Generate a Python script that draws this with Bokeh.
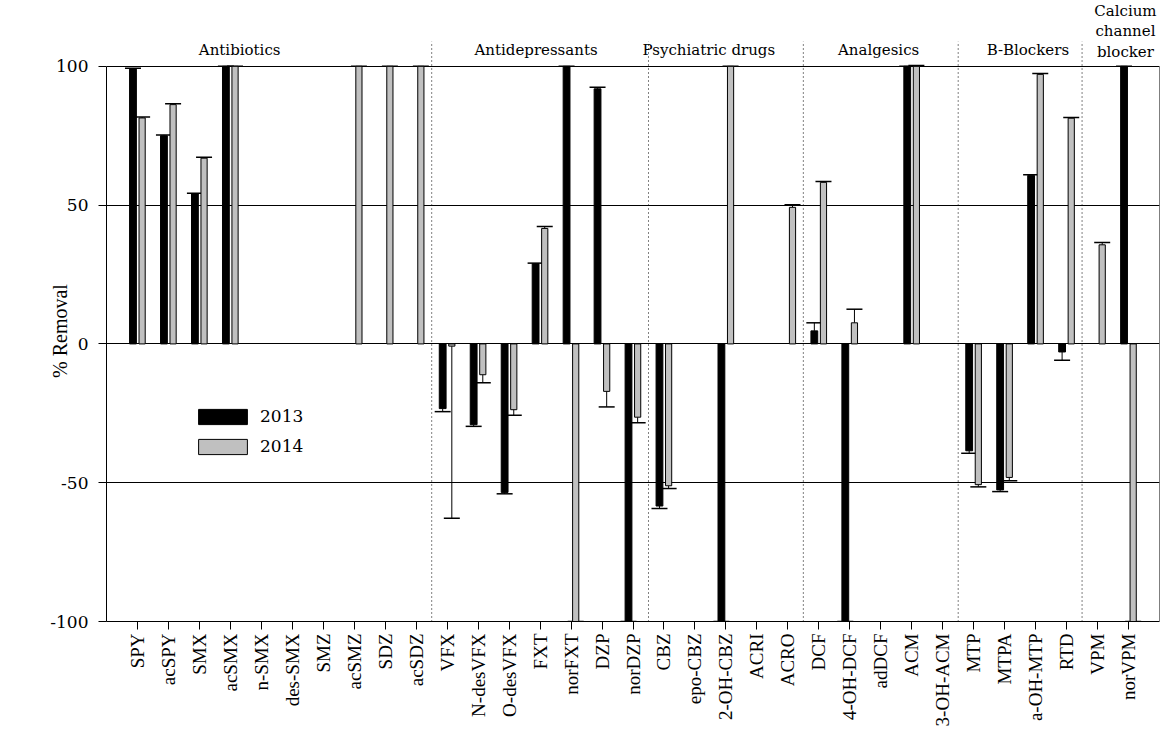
import math
from bokeh.plotting import figure
from bokeh.layouts import column
from bokeh.models import (Range1d, FixedTicker, Whisker, TeeHead, Legend, LegendItem,
                          ColumnDataSource)
from bokeh.core.properties import value
from bokeh.embed import file_html
from bokeh.resources import INLINE

# ---------------- data ----------------
compounds = ["SPY", "acSPY", "SMX", "acSMX", "n-SMX", "des-SMX", "SMZ", "acSMZ", "SDZ", "acSDZ",
             "VFX", "N-desVFX", "O-desVFX", "FXT", "norFXT", "DZP", "norDZP",
             "CBZ", "epo-CBZ", "2-OH-CBZ", "ACRI", "ACRO",
             "DCF", "4-OH-DCF", "adDCF", "ACM", "3-OH-ACM",
             "MTP", "MTPA", "a-OH-MTP", "RTD",
             "VPM", "norVPM"]

removal_2013 = [99, 75, 54, 100, None, None, None, None, None, None,
                -23.3, -29.1, -53.5, 28.9, 100, 91.9, -100,
                -58.4, None, -100, None, None,
                4.7, -100, None, 100, None,
                -38.5, -52.6, 60.7, -2.9,
                None, 100]
error_2013 = [0.3, 0.3, 0.3, 0, None, None, None, None, None, None,
              1.1, 0.6, 0.5, 0.2, 0, 0.6, 0,
              0.9, None, 0, None, None,
              2.9, 0, None, 0, None,
              0.9, 0.6, 0.2, 3.0,
              None, 0]

removal_2014 = [81.4, 86.2, 66.9, 100, None, None, None, 100, 100, 100,
                -0.8, -11.1, -23.7, 41.6, -100, -17.1, -26.4,
                -51.1, None, 100, None, 49.2,
                58.2, 7.6, None, 100, None,
                -50.7, -48.1, 97.1, 81.3,
                35.7, -100]
error_2014 = [0.3, 0.3, 0.3, 0, None, None, None, 0, 0, 0,
              62, 2.9, 2.0, 0.7, 0, 5.6, 2.0,
              1.0, None, 0, None, 0.9,
              0.3, 4.9, None, 0.3, None,
              0.8, 1.2, 0.3, 0.3,
              0.8, 0]

years = ["2013", "2014"]

groups = ["Antibiotics", "Antidepressants", "Psychiatric drugs", "Analgesics", "B-Blockers"]
group_label_x = [4.3, 13.87, 19.45, 24.93, 29.75]
group_bounds = [10.5, 17.5, 22.5, 27.5, 31.5]
ccb_lines = ["Calcium", "channel", "blocker"]

# ---------------- layout ----------------
n = len(compounds)
W = 1161
BL, BR = 106, 2
PX = 2.775          # pixels per percent unit
YSPLIT = 109.3      # value at the seam between header strip and main chart
TOP_H = 40
xr = Range1d(0, n + 1)

# header strip (upper lines of the multi-line class name)
top = figure(width=W, height=TOP_H, output_backend="svg", toolbar_location=None,
             x_range=xr, y_range=Range1d(YSPLIT, YSPLIT + TOP_H / PX),
             x_axis_location=None, y_axis_location=None,
             min_border_left=BL, min_border_right=BR, min_border_top=0, min_border_bottom=0)
top.outline_line_color = None
top.grid.visible = False
top.text(x=[32.9] * 2, y=[120.0, 112.8], text=ccb_lines[:2], text_align="center",
         text_baseline="middle", text_font=value("DejaVu Serif"), text_font_size="15px",
         text_color="black")

# main chart
frame_h = (YSPLIT + 100) * PX
p = figure(width=W, height=int(round(frame_h)) + 110, output_backend="svg", toolbar_location=None,
           x_range=xr, y_range=Range1d(-100, YSPLIT),
           min_border_left=BL, min_border_right=BR, min_border_top=0, min_border_bottom=110)
p.outline_line_color = None
p.xgrid.visible = False
p.ygrid.ticker = FixedTicker(ticks=[-50, 0, 50, 100])
p.ygrid.grid_line_color = "black"
p.ygrid.grid_line_width = 1

p.xaxis.ticker = FixedTicker(ticks=list(range(1, n + 1)))
p.xaxis.major_label_overrides = {i + 1: c for i, c in enumerate(compounds)}
p.xaxis.major_label_orientation = math.pi / 2
p.xaxis.major_label_text_font = "Liberation Serif"
p.xaxis.major_label_text_font_size = "19px"
p.xaxis.major_label_text_color = "black"
p.xaxis.major_tick_in = 0
p.xaxis.major_tick_out = 8
p.xaxis.minor_tick_line_color = None
p.xaxis.axis_line_color = "black"
p.xaxis.major_label_standoff = 4

p.yaxis.ticker = FixedTicker(ticks=[-100, -50, 0, 50, 100])
p.yaxis.bounds = (-100, 100)
p.yaxis.major_label_overrides = {-100: "-100", -50: "-50", 0: "0", 50: "50", 100: "100"}
p.yaxis.major_label_text_font = "DejaVu Serif"
p.yaxis.major_label_text_font_size = "17px"
p.yaxis.major_label_text_color = "black"
p.yaxis.major_tick_in = 0
p.yaxis.major_tick_out = 8
p.yaxis.minor_tick_line_color = None
p.yaxis.axis_line_color = "black"
p.yaxis.major_label_standoff = 10
p.yaxis.axis_label = "% Removal"
p.yaxis.axis_label_text_font = "Liberation Serif"
p.yaxis.axis_label_text_font_style = "normal"
p.yaxis.axis_label_text_font_size = "20px"
p.yaxis.axis_label_text_color = "black"
p.yaxis.axis_label_standoff = -24

# right border of the plot box
p.segment(x0=[n + 1], y0=[-100], x1=[n + 1], y1=[100], line_color="black", line_width=1)

# group separators
p.segment(x0=group_bounds, y0=[-100] * len(group_bounds), x1=group_bounds,
          y1=[109] * len(group_bounds), line_color="black", line_width=1, line_dash="1 3")

# class names
p.text(x=group_label_x, y=[105.8] * len(groups), text=groups, text_align="center",
       text_baseline="middle", text_font=value("DejaVu Serif"), text_font_size="15px",
       text_color="black")
p.text(x=[32.9], y=[105.0], text=ccb_lines[2:], text_align="center",
       text_baseline="middle", text_font=value("DejaVu Serif"), text_font_size="15px",
       text_color="black")


def series(vals, errs, offset):
    xs, tops, xp, lo, hi, xn, lon, hin = [], [], [], [], [], [], [], []
    for i, (v, e) in enumerate(zip(vals, errs)):
        if v is None:
            continue
        x = i + 1 + offset
        xs.append(x)
        tops.append(v)
        if v >= 0:
            xp.append(x); lo.append(v); hi.append(v + e)
        else:
            xn.append(x); lon.append(v - e); hin.append(v)
    return xs, tops, (xp, lo, hi), (xn, lon, hin)


bars = []
for vals, errs, off, fill, w in [(removal_2013, error_2013, -0.145, "black", 0.22),
                                  (removal_2014, error_2014, 0.15, "#c0c0c0", 0.20)]:
    xs, tops, pos, neg = series(vals, errs, off)
    r = p.vbar(x=xs, top=tops, bottom=0, width=w, fill_color=fill, line_color="black", line_width=1)
    bars.append(r)
    sp = ColumnDataSource(dict(base=pos[0], lower=pos[1], upper=pos[2]))
    p.add_layout(Whisker(source=sp, base="base", lower="lower", upper="upper", dimension="height",
                         line_color="black", line_width=1,
                         upper_head=TeeHead(size=16, line_color="black", line_width=1.5),
                         lower_head=None))
    sn = ColumnDataSource(dict(base=neg[0], lower=neg[1], upper=neg[2]))
    p.add_layout(Whisker(source=sn, base="base", lower="lower", upper="upper", dimension="height",
                         line_color="black", line_width=1,
                         lower_head=TeeHead(size=16, line_color="black", line_width=1.5),
                         upper_head=None))

legend = Legend(items=[LegendItem(label=years[0], renderers=[bars[0]]),
                       LegendItem(label=years[1], renderers=[bars[1]])],
                location=(86, 165), orientation="vertical",
                glyph_width=61, glyph_height=19, label_height=19, label_standoff=7,
                spacing=10, padding=0, margin=0, border_line_color=None,
                background_fill_alpha=0,
                label_text_font="DejaVu Serif", label_text_font_size="17px",
                label_text_color="black")
p.add_layout(legend)

layout = column(top, p, spacing=0)
open("out.html", "w").write(file_html(layout, INLINE))
